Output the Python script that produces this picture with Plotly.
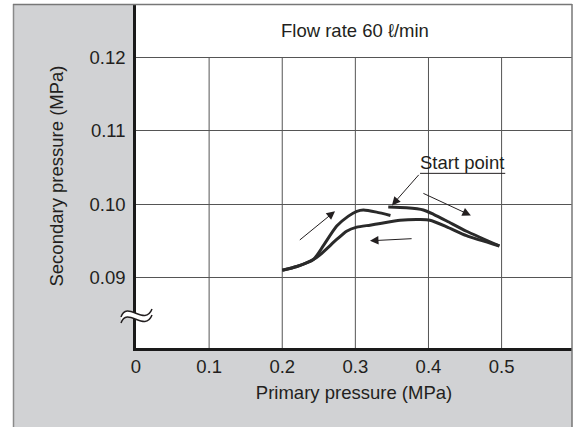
import plotly.graph_objects as go

# ---------------- data ----------------
# outgoing branch from the start point toward 0.5 MPa
out_primary = [0.345, 0.370, 0.393, 0.407, 0.425, 0.452, 0.497]
out_secondary = [0.0996, 0.0995, 0.0992, 0.0986, 0.0977, 0.0963, 0.0943]
# return branch from 0.5 MPa back down to 0.2 MPa
ret_primary = [0.497, 0.452, 0.425, 0.402, 0.389, 0.361, 0.334, 0.320, 0.302, 0.288, 0.2745, 0.2517, 0.2426, 0.220, 0.200]
ret_secondary = [0.0943, 0.0957, 0.0969, 0.0978, 0.0979, 0.0978, 0.09736, 0.09713, 0.09686, 0.09631, 0.09518, 0.0931, 0.09245, 0.0915, 0.0910]
# rising branch from 0.2 MPa back up
up_primary = [0.200, 0.220, 0.2426, 0.256, 0.2745, 0.2905, 0.302, 0.311, 0.329, 0.348]
up_secondary = [0.0910, 0.0915, 0.09245, 0.0943, 0.0970, 0.09836, 0.0990, 0.09918, 0.0989, 0.09845]

x_ticks = [0, 0.1, 0.2, 0.3, 0.4, 0.5]
x_ticktext = ["0", "0.1", "0.2", "0.3", "0.4", "0.5"]
y_ticks = [0.09, 0.10, 0.11, 0.12]
y_ticktext = ["0.09", "0.10", "0.11", "0.12"]

X_RANGE = [0, 0.5963]
Y_RANGE = [0.08041, 0.12723]

FONT = "Liberation Sans, Arial, Helvetica, sans-serif"
FS = 18.5
TXT = "#231f20"
GRID = "#555555"
CURVE = "#2a2a2a"

W, H = 577, 427
L, R, T, B = 136, 5, 4, 79
PW, PH = W - L - R, H - T - B


def px(x):
    return (x - L) / PW


def py(y):
    return (H - B - y) / PH


def P(x, y):
    return f"{px(x):.5f},{py(y):.5f}"


fig = go.Figure()
for xs, ys in [(out_primary, out_secondary), (ret_primary, ret_secondary), (up_primary, up_secondary)]:
    fig.add_trace(go.Scatter(x=xs, y=ys, mode="lines",
                             line=dict(color=CURVE, width=3, shape="spline", smoothing=0.6),
                             hoverinfo="skip"))

shapes = []
# vertical gridlines stop at 0.12 (title band above)
for t in x_ticks[1:]:
    shapes.append(dict(type="line", xref="x", yref="y", x0=t, x1=t, y0=Y_RANGE[0], y1=0.12,
                       line=dict(color=GRID, width=1), layer="below"))
# white strips outside the grey frame
shapes.append(dict(type="rect", xref="paper", yref="paper", x0=px(-5), x1=px(13), y0=-1, y1=2,
                   fillcolor="white", line=dict(width=0), layer="below"))
shapes.append(dict(type="rect", xref="paper", yref="paper", x0=px(572), x1=px(590), y0=-1, y1=2,
                   fillcolor="white", line=dict(width=0), layer="below"))
shapes.append(dict(type="rect", xref="paper", yref="paper", x0=px(-5), x1=px(590), y0=py(4), y1=py(-10),
                   fillcolor="white", line=dict(width=0), layer="below"))
# frame lines
shapes.append(dict(type="line", xref="paper", yref="paper", x0=px(13.5), x1=px(13.5), y0=py(4), y1=py(440),
                   line=dict(color="#8a8a8a", width=1.5)))
shapes.append(dict(type="line", xref="paper", yref="paper", x0=px(13), x1=px(572), y0=py(4.5), y1=py(4.5),
                   line=dict(color="#777777", width=1.5)))
shapes.append(dict(type="line", xref="paper", yref="paper", x0=px(572), x1=px(572), y0=py(4), y1=py(440),
                   line=dict(color="#777777", width=1.5)))
# start point underline
shapes.append(dict(type="line", xref="x", yref="y", x0=0.3885, x1=0.505, y0=0.10418, y1=0.10418,
                   line=dict(color=TXT, width=1)))
# axis break symbol
top = [(121, 317), (127, 300), (145, 327), (152, 309)]
bot = [(x, y + 6) for x, y in top]
fill_path = (f"M {P(*top[0])} C {P(*top[1])} {P(*top[2])} {P(*top[3])} "
             f"L {P(*bot[3])} C {P(*bot[2])} {P(*bot[1])} {P(*bot[0])} Z")
shapes.append(dict(type="path", xref="paper", yref="paper", path=fill_path,
                   fillcolor="white", line=dict(width=0), layer="above"))
for wv in (top, bot):
    shapes.append(dict(type="path", xref="paper", yref="paper",
                       path=f"M {P(*wv[0])} C {P(*wv[1])} {P(*wv[2])} {P(*wv[3])}",
                       line=dict(color=TXT, width=1.5), layer="above"))

annotations = [
    dict(text="Flow rate 60 ℓ/min", xref="x", yref="y", x=0.2995, y=0.12361,
         xanchor="center", yanchor="middle",
         showarrow=False, font=dict(size=FS, color=TXT, family=FONT)),
    dict(text="Start point", xref="x", yref="y", x=0.4456, y=0.10572,
         xanchor="center", yanchor="middle",
         showarrow=False, font=dict(size=FS, color=TXT, family=FONT)),
]
arrows = [
    ((0.2722, 0.09903), (0.222, 0.09495)),
    ((0.320, 0.0950), (0.379, 0.0953)),
    ((0.458, 0.09845), (0.391, 0.10155)),
    ((0.350, 0.09982), (0.3885, 0.10418)),
]
for (hx, hy), (tx, ty) in arrows:
    annotations.append(dict(text="", x=hx, y=hy, ax=tx, ay=ty, xref="x", yref="y", axref="x", ayref="y",
                            showarrow=True, arrowhead=2, arrowsize=1.7, arrowwidth=1, arrowcolor=TXT,
                            standoff=0, startstandoff=0))

fig.update_layout(
    width=W, height=H,
    margin=dict(l=L, r=R, t=T, b=B, pad=0, autoexpand=False),
    paper_bgcolor="#d1d2d4", plot_bgcolor="white",
    showlegend=False,
    font=dict(family=FONT, size=FS, color=TXT),
    shapes=shapes, annotations=annotations,
)
fig.update_xaxes(range=X_RANGE, tickvals=x_ticks, ticktext=x_ticktext, showgrid=False, zeroline=False,
                 showline=True, linecolor="#1a1a1a", linewidth=2.5, ticks="", ticklabelstandoff=0,
                 automargin=False,
                 tickfont=dict(size=FS, color=TXT, family=FONT),
                 title=dict(text="Primary pressure (MPa)", standoff=11, font=dict(size=FS, color=TXT, family=FONT)))
fig.update_yaxes(range=Y_RANGE, tickvals=y_ticks, ticktext=y_ticktext, showgrid=True, gridcolor=GRID,
                 gridwidth=1, zeroline=False, showline=True, linecolor="#1a1a1a", linewidth=2.5, ticks="",
                 automargin=False,
                 ticklabelstandoff=4, tickfont=dict(size=FS, color=TXT, family=FONT),
                 title=dict(text="Secondary pressure (MPa)", standoff=22, font=dict(size=FS, color=TXT, family=FONT)))

fig.write_html("out.html", config={"displayModeBar": False},
               post_script="document.body.style.margin='0px';document.body.style.overflow='hidden';")
